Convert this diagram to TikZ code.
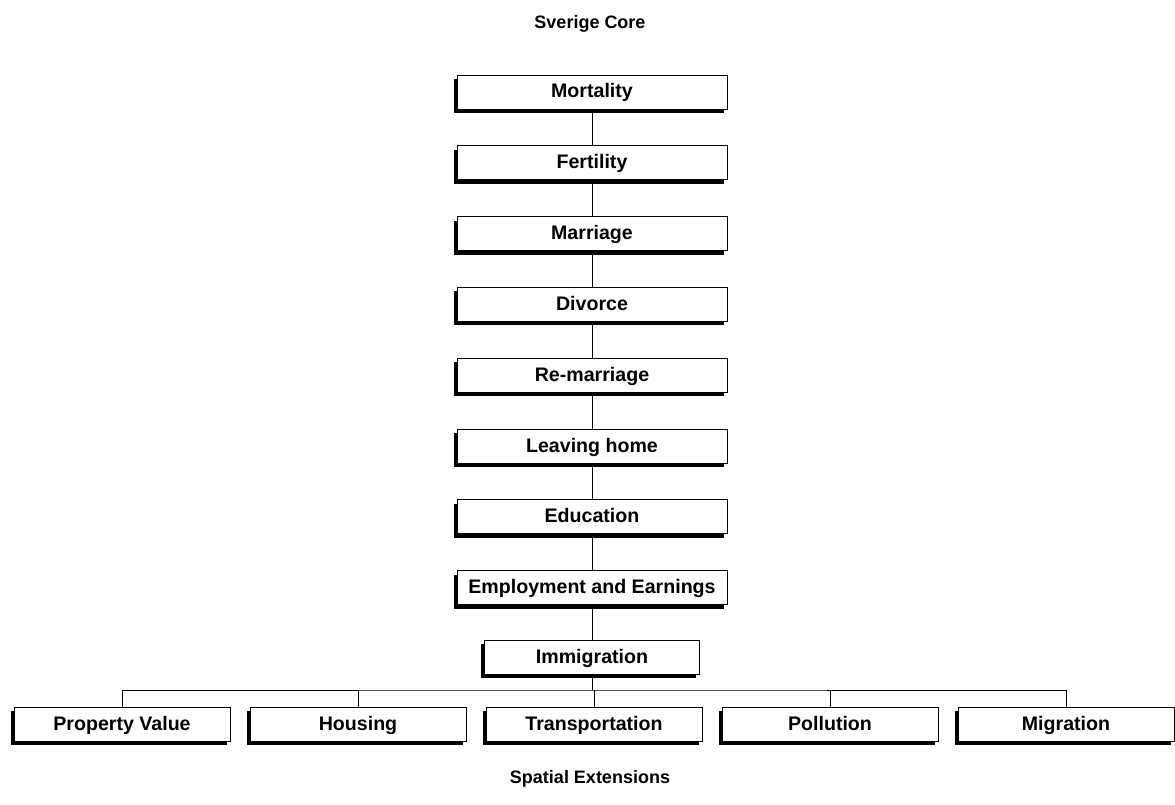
\documentclass[tikz,border=0pt]{standalone}
\usepackage{fontspec}
\setmainfont{Liberation Sans}
\usetikzlibrary{positioning,shadows}

\begin{document}
\begin{tikzpicture}[x=1pt, y=-1pt, node distance=36pt,
    modbox/.style={draw=black, line width=0.8pt, fill=white,
      minimum width=270pt, minimum height=34pt, inner sep=0pt,
      text height=15pt, text depth=3pt,
      font=\fontsize{19.6}{22}\selectfont\bfseries,
      drop shadow={shadow xshift=-3.5pt, shadow yshift=-4pt,
        fill=black, opacity=1}},
    extbox/.style={modbox, minimum width=216pt},
    link/.style={draw=black, line width=0.8pt},
    caption/.style={font=\fontsize{18}{21}\selectfont\bfseries}]
  \useasboundingbox (0,0) rectangle (1175,805);
  % Sverige Core:
  %   the chain of core modules, run from top to bottom
  \node[caption] (core) at (590,24) {Sverige Core};
  \node[modbox] (mortality) at (592,92) {Mortality};
  \node[modbox, below=of mortality] (fertility) {Fertility};
  \node[modbox, below=of fertility] (marriage) {Marriage};
  \node[modbox, below=of marriage] (divorce) {Divorce};
  \node[modbox, below=of divorce] (remarriage) {Re-marriage};
  \node[modbox, below=of remarriage] (leaving) {Leaving home};
  \node[modbox, below=of leaving] (education) {Education};
  \node[modbox, below=of education] (employment) {Employment and Earnings};
  \node[modbox, minimum width=215pt, below=35pt of employment] (immigration) {Immigration};
  \draw[link] (mortality) -- (fertility);
  \draw[link] (fertility) -- (marriage);
  \draw[link] (marriage) -- (divorce);
  \draw[link] (divorce) -- (remarriage);
  \draw[link] (remarriage) -- (leaving);
  \draw[link] (leaving) -- (education);
  \draw[link] (education) -- (employment);
  \draw[link] (employment) -- (immigration);
  % Spatial Extensions:
  %   one row of modules hung from a common bus
  \node[extbox] (property) at (122,724) {Property Value};
  \node[extbox] (housing) at (358,724) {Housing};
  \node[extbox] (transport) at (594,724) {Transportation};
  \node[extbox] (pollution) at (830,724) {Pollution};
  \node[extbox] (migration) at (1066,724) {Migration};
  \coordinate (bus) at (592,690);
  \draw[link] (immigration) -- (bus);
  \draw[link] (property.north) |- (bus) -| (migration.north);
  \draw[link] (housing.north) -- (housing.north |- bus);
  \draw[link] (transport.north) -- (transport.north |- bus);
  \draw[link] (pollution.north) -- (pollution.north |- bus);
  \node[caption] (spatial) at (590,779) {Spatial Extensions};
\end{tikzpicture}
\end{document}
